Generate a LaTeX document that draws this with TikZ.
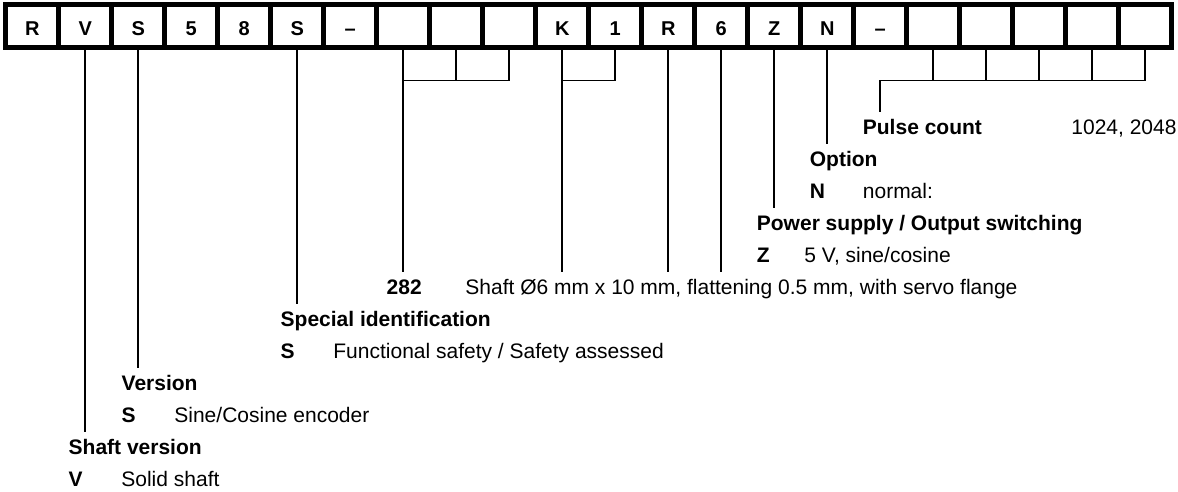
\documentclass[tikz,border=0pt]{standalone}
\usepackage{fontspec}
\setmainfont{Liberation Sans}
\usetikzlibrary{positioning, calc}

\begin{document}
\begin{tikzpicture}[
    x=0.5pt, y=-0.5pt,
    cell/.style={draw, rectangle, line width=2.5pt, minimum width=26.5pt, minimum height=21.5pt, inner sep=0pt, outer sep=0pt, text height=9.3pt, text depth=0pt, font=\fontsize{10}{12}\selectfont\bfseries},
    head/.style={anchor=base west, inner xsep=0pt, inner ysep=3.5pt, text height=7.5pt, text depth=2pt, font=\fontsize{10.5}{12}\selectfont\bfseries},
    key/.style={anchor=base west, inner sep=0pt, font=\fontsize{10.5}{12}\selectfont\bfseries},
    desc/.style={anchor=base west, inner sep=0pt, font=\fontsize{10.5}{12}\selectfont},
    lead/.style={line width=0.85pt}
]
    \useasboundingbox (0,0) rectangle (1178,492);

    \node[cell] (c1) at (32.3, 26.5) {R};
    \node[cell] (c2) at (85.3, 26.5) {V};
    \node[cell] (c3) at (138.3, 26.5) {S};
    \node[cell] (c4) at (191.3, 26.5) {5};
    \node[cell] (c5) at (244.3, 26.5) {8};
    \node[cell] (c6) at (297.3, 26.5) {S};
    \node[cell] (c7) at (350.3, 26.5) {--};
    \node[cell] (c8) at (403.3, 26.5) {};
    \node[cell] (c9) at (456.3, 26.5) {};
    \node[cell] (c10) at (509.3, 26.5) {};
    \node[cell] (c11) at (562.3, 26.5) {K};
    \node[cell] (c12) at (615.3, 26.5) {1};
    \node[cell] (c13) at (668.3, 26.5) {R};
    \node[cell] (c14) at (721.3, 26.5) {6};
    \node[cell] (c15) at (774.3, 26.5) {Z};
    \node[cell] (c16) at (827.3, 26.5) {N};
    \node[cell] (c17) at (880.3, 26.5) {--};
    \node[cell] (c18) at (933.3, 26.5) {};
    \node[cell] (c19) at (986.3, 26.5) {};
    \node[cell] (c20) at (1039.3, 26.5) {};
    \node[cell] (c21) at (1092.3, 26.5) {};
    \node[cell] (c22) at (1145.3, 26.5) {};

    \node[head] (hPulse) at (862.5, 134) {Pulse count};
    \node[desc] (dPulse) at (1071, 134) {1024, 2048};

    \node[head] (hOption) at (809.5, 166.1) {Option};
    \node[key] (kOption) at (809.5, 198.1) {N};
    \node[desc] (dOption) at (862.5, 198.1) {normal:};

    \node[head] (hPower) at (756.5, 230.2) {Power supply / Output switching};
    \node[key] (kPower) at (756.5, 262.3) {Z};
    \node[desc] (dPower) at (804, 262.3) {5 V, sine/cosine};

    \node[head] (k282) at (386.3, 294.4) {282};
    \node[desc] (d282) at (465, 294.4) {Shaft Ø6 mm x 10 mm, flattening 0.5 mm, with servo flange};

    \node[head] (hSpecial) at (280.3, 326.4) {Special identification};
    \node[key] (kSpecial) at (280.3, 358.5) {S};
    \node[desc] (dSpecial) at (333, 358.5) {Functional safety / Safety assessed};

    \node[head] (hVersion) at (121.3, 390.6) {Version};
    \node[key] (kVersion) at (121.3, 422.6) {S};
    \node[desc] (dVersion) at (174, 422.6) {Sine/Cosine encoder};

    \node[head] (hShaft) at (68.3, 454.7) {Shaft version};
    \node[key] (kShaft) at (68.3, 486.8) {V};
    \node[desc] (dShaft) at (121, 486.8) {Solid shaft};

    \coordinate (bar) at (0, 80.5);

    \draw[lead] (c2.south) -- (c2.south |- hShaft.north);
    \draw[lead] (c3.south) -- (c3.south |- hVersion.north);
    \draw[lead] (c6.south) -- (c6.south |- hSpecial.north);

    \draw[lead] (c8.south) -- (c8.south |- k282.north);
    \draw[lead] (c8.south |- bar) -| (c10.south);
    \draw[lead] (c9.south) -- (c9.south |- bar);
    \draw[lead] (c11.south) -- (c11.south |- k282.north);
    \draw[lead] (c11.south |- bar) -| (c12.south);
    \draw[lead] (c13.south) -- (c13.south |- k282.north);
    \draw[lead] (c14.south) -- (c14.south |- k282.north);

    \draw[lead] (c15.south) -- (c15.south |- hPower.north);
    \draw[lead] (c16.south) -- (c16.south |- hOption.north);

    \draw[lead] (c17.south |- hPulse.north) -- (c17.south |- bar) -| (c22.south);
    \draw[lead] (c18.south) -- (c18.south |- bar);
    \draw[lead] (c19.south) -- (c19.south |- bar);
    \draw[lead] (c20.south) -- (c20.south |- bar);
    \draw[lead] (c21.south) -- (c21.south |- bar);
\end{tikzpicture}
\end{document}
